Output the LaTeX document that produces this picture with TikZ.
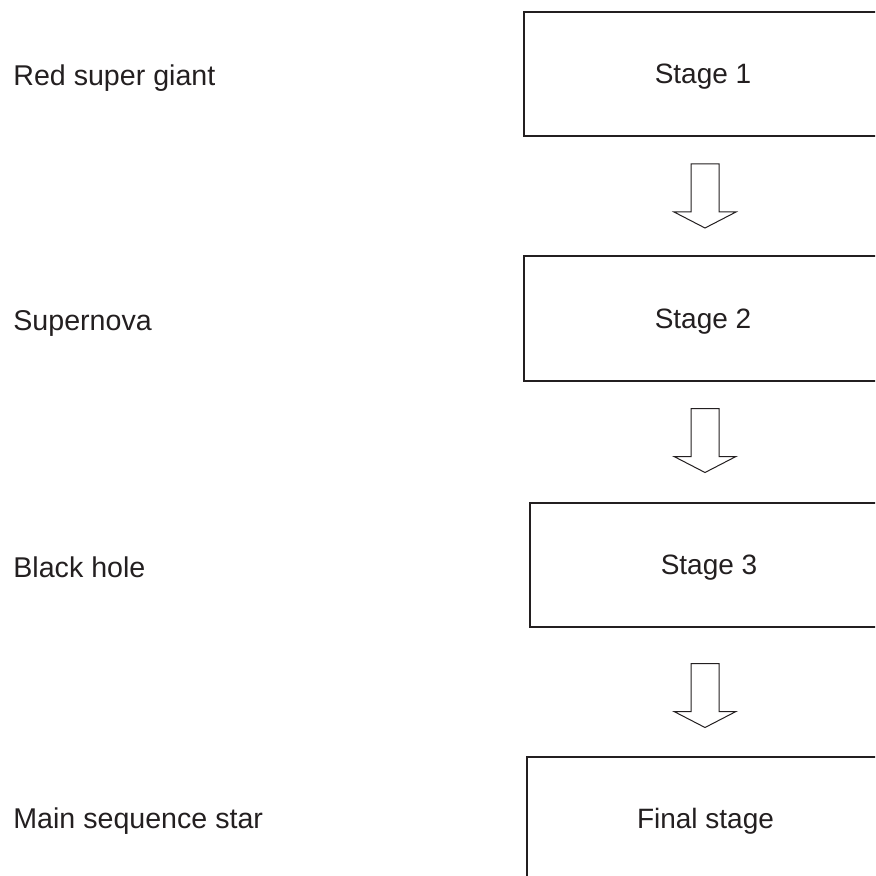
\documentclass[tikz,border=0pt]{standalone}
\usepackage{fontspec}
\setmainfont{Liberation Sans}
\usetikzlibrary{positioning,calc}
\definecolor{ink}{HTML}{231F20}
\tikzstyle{stagebox} = [draw=ink, line width=1pt, shape=rectangle, minimum width=179pt, minimum height=62pt, text depth=0pt, text=ink, font=\fontsize{14pt}{16pt}\selectfont]
\tikzstyle{starname} = [anchor=base west, inner sep=0pt, text=ink, font=\fontsize{14.3pt}{16pt}\selectfont]
\tikzstyle{blockarrow} = [draw=ink, line width=.5pt, fill=white, line join=miter]
\newcommand{\hollowarrow}[1]{%
  \draw[blockarrow] ($(#1)+(-14,-32)$) -- ($(#1)+(-14,16)$) -- ($(#1)+(-31,16)$)
    -- ($(#1)+(0,32)$) -- ($(#1)+(31,16)$) -- ($(#1)+(14,16)$) -- ($(#1)+(14,-32)$) -- cycle;}

\begin{document}
\begin{tikzpicture}[x=.5pt,y=-.5pt]
            \clip (0,0) rectangle (875,876);
            %%%%% Stages %%%%%
            \node (S1) [stagebox] at (703,74) {Stage 1};
            \node (S2) [stagebox] at (703,318.5) {Stage 2};
            \node (S3) [stagebox] at (709,564.5) {Stage 3};
            \node (S4) [stagebox] at (705.5,818.5) {Final stage};
            %%%%% Arrows %%%%%
            \coordinate (A1) at (705,196);
            \coordinate (A2) at (705,440.5);
            \coordinate (A3) at (705,695.5);
            \hollowarrow{A1}
            \hollowarrow{A2}
            \hollowarrow{A3}
            %%%%% Names %%%%%
            \node (N1) [starname] at (13,86) {Red super giant};
            \node (N2) [starname] at (13,331) {Supernova};
            \node (N3) [starname] at (13,577) {Black hole};
            \node (N4) [starname] at (13,828) {Main sequence star};
        \end{tikzpicture}
\end{document}
